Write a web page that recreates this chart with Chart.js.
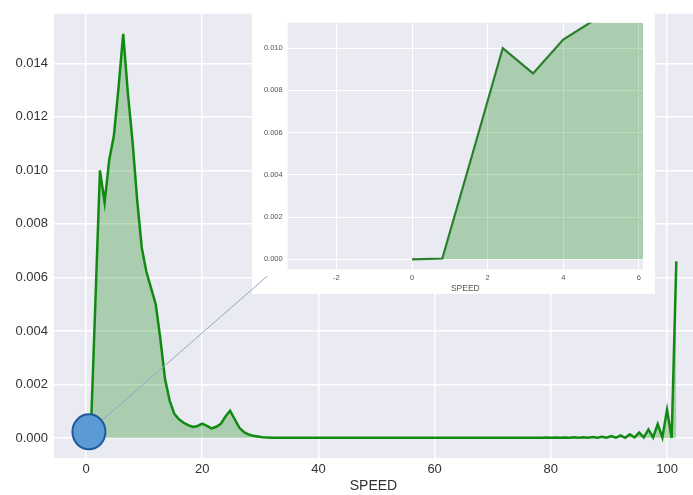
<!DOCTYPE html>
<html>
<head>
<meta charset="utf-8">
<script src="https://cdn.jsdelivr.net/npm/chart.js@4"></script>
<style>
  html, body { margin:0; padding:0; background:#fff; }
  #wrap { position:relative; width:693px; height:495px; }
  #main { position:absolute; left:0; top:0; }
  #inset { position:absolute; left:252px; top:13px; background:#fff; }
  #overlay { position:absolute; left:0; top:0; pointer-events:none; }
</style>
</head>
<body>
<div id="wrap">
  <canvas id="main" width="693" height="495"></canvas>
  <canvas id="inset" width="403" height="281"></canvas>
  <canvas id="overlay" width="693" height="495"></canvas>
</div>
<script>
// speed grid (x) and density values (y)
const speeds = [0,0.8,1.6,2.4,3.2,4,4.8,5.6,6.4,7.2,8,8.8,9.6,10.4,11.2,12,12.8,13.6,14.4,15.2,
  16,16.8,17.6,18.4,19.2,20,20.8,21.6,22.4,23.2,24,24.8,25.6,26.4,27.2,28,28.8,29.6,30.4,31.2,
  32,32.8,33.6,34.4,35.2,36,36.8,37.6,38.4,39.2,40,40.8,41.6,42.4,43.2,44,44.8,45.6,46.4,47.2,
  48,48.8,49.6,50.4,51.2,52,52.8,53.6,54.4,55.2,56,56.8,57.6,58.4,59.2,60,60.8,61.6,62.4,63.2,
  64,64.8,65.6,66.4,67.2,68,68.8,69.6,70.4,71.2,72,72.8,73.6,74.4,75.2,76,76.8,77.6,78.4,79.2,
  80,80.8,81.6,82.4,83.2,84,84.8,85.6,86.4,87.2,88,88.8,89.6,90.4,91.2,92,92.8,93.6,94.4,95.2,
  96,96.8,97.6,98.4,99.2,100,100.8,101.6];
const density = [0,0.00004,0.0050,0.0100,0.0088,0.0104,0.0113,0.0131,0.0151,0.0129,
  0.0111,0.0089,0.0071,0.0062,0.0056,0.0050,0.0037,0.0022,0.0014,0.0009,
  0.0007,0.00057,0.00048,0.00041,0.00045,0.00054,0.00045,0.00036,0.00042,0.00053,
  0.00080,0.00102,0.00070,0.00038,0.00022,0.00013,0.00008,0.00006,0.00003,0.00002,
  0.00001,0.00001,0.00001,0.00001,0.00001,0.00001,0.00001,0.00001,0.00001,0.00001,
  0.00001,0.00001,0.00001,0.00001,0.00001,0.00001,0.00001,0.00001,0.00001,0.00001,
  0.00001,0.00001,0.00001,0.00001,0.00001,0.00001,0.00001,0.00001,0.00001,0.00001,
  0.00001,0.00001,0.00001,0.00001,0.00001,0.00001,0.00001,0.00001,0.00001,0.00001,
  0.00001,0.00001,0.00001,0.00001,0.00001,0.00001,0.00001,0.00001,0.00001,0.00001,
  0.00001,0.00001,0.00001,0.00001,0.00001,0.00001,0.00001,0.00001,0.00001,0.00002,
  0.00001,0.00002,0.00001,0.00002,0.00001,0.00003,0.00001,0.00003,0.00001,0.00004,
  0.00001,0.00005,0.00001,0.00007,0.00001,0.00010,0.00001,0.00014,0.00002,0.00020,
  0.00002,0.00032,0.00002,0.00052,0.00002,0.00105,0.00000,0.0066];

const xTicks = [0,20,40,60,80,100];
const yTicks = [0,0.002,0.004,0.006,0.008,0.010,0.012,0.014];
const insetXTicks = [-2,0,2,4,6];
const insetYTicks = [0,0.002,0.004,0.006,0.008,0.010];

// zoom marker (circle) and connector end, in main data units
const zoomSpot = {x:0.5, y:0.00023};
const connectorEnd = {x:31.2, y:0.00605};

const points = speeds.map((s,i)=>({x:s, y:density[i]}));

const bgPlugin = {
  id:'bg',
  beforeDraw(chart){
    const {ctx, chartArea:a} = chart;
    ctx.save();
    ctx.fillStyle = '#fff';
    ctx.fillRect(0,0,chart.width,chart.height);
    ctx.fillStyle = '#EAEAF2';
    ctx.fillRect(a.left,a.top,a.right-a.left,a.bottom-a.top);
    ctx.restore();
  }
};

function axis(ticks, opts){
  return Object.assign({
    type:'linear',
    afterBuildTicks: s => { s.ticks = ticks.map(v=>({value:v})); },
    grid:{ color:'#fff', lineWidth:1.5, drawTicks:false },
    border:{ display:false }
  }, opts);
}

const mainChart = new Chart(document.getElementById('main'), {
  type:'line',
  data:{ datasets:[{
    data:points,
    borderColor:'#118a11',
    borderWidth:2.5,
    backgroundColor:'rgba(0,128,0,0.27)',
    fill:'origin',
    pointRadius:0,
    tension:0
  }]},
  options:{
    responsive:false,
    animation:false,
    layout:{ padding:{ top:12.5, left:0, right:0, bottom:0 } },
    plugins:{ legend:{display:false}, tooltip:{enabled:false} },
    scales:{
      x: axis(xTicks, {
        min:-5.51, max:104.47,
        afterFit: s => { s.height = 37; },
        ticks:{ color:'#333', font:{family:'Liberation Sans', size:13}, padding:4,
                callback: v => String(v) },
        title:{ display:true, text:'SPEED', color:'#333',
                font:{family:'Liberation Sans', size:14}, padding:{top:0,bottom:0} }
      }),
      y: axis(yTicks, {
        min:-0.000747, max:0.01585,
        afterFit: s => { s.width = 54; },
        ticks:{ color:'#333', font:{family:'Liberation Sans', size:13}, padding:6,
                callback: v => v.toFixed(3) }
      })
    }
  },
  plugins:[bgPlugin]
});

new Chart(document.getElementById('inset'), {
  type:'line',
  data:{ datasets:[{
    data:points,
    borderColor:'#2a7f2a',
    borderWidth:2.2,
    backgroundColor:'rgba(0,128,0,0.27)',
    fill:'origin',
    pointRadius:0,
    tension:0
  }]},
  options:{
    responsive:false,
    animation:false,
    layout:{ padding:{ top:9.7, left:0, right:12, bottom:0 } },
    plugins:{ legend:{display:false}, tooltip:{enabled:false} },
    scales:{
      x: axis(insetXTicks, {
        min:-3.29, max:6.11,
        afterFit: s => { s.height = 24.7; },
        grid:{ color:'#fff', lineWidth:1, drawTicks:false },
        ticks:{ color:'#555', font:{family:'Liberation Sans', size:7.5}, padding:4,
                callback: v => String(v) },
        title:{ display:true, text:'SPEED', color:'#555',
                font:{family:'Liberation Sans', size:8.5}, padding:{top:0,bottom:0} }
      }),
      y: axis(insetYTicks, {
        min:-0.00047, max:0.0112,
        afterFit: s => { s.width = 35.7; },
        grid:{ color:'#fff', lineWidth:1, drawTicks:false },
        ticks:{ color:'#555', font:{family:'Liberation Sans', size:7.5}, padding:5,
                callback: v => v.toFixed(3) }
      })
    }
  },
  plugins:[bgPlugin]
});

// connector line and zoom circle, placed through the main chart's scales
const octx = document.getElementById('overlay').getContext('2d');
const sx = mainChart.scales.x, sy = mainChart.scales.y;
const cx = sx.getPixelForValue(zoomSpot.x), cy = sy.getPixelForValue(zoomSpot.y);
octx.strokeStyle = '#8fa6c6';
octx.lineWidth = 1;
octx.beginPath();
octx.moveTo(cx, cy);
octx.lineTo(sx.getPixelForValue(connectorEnd.x), sy.getPixelForValue(connectorEnd.y));
octx.stroke();
octx.beginPath();
octx.ellipse(cx, cy, 16.5, 17.5, 0, 0, Math.PI*2);
octx.fillStyle = '#5b9bd5';
octx.fill();
octx.strokeStyle = '#1f5a9e';
octx.lineWidth = 2;
octx.stroke();
</script>
</body>
</html>
